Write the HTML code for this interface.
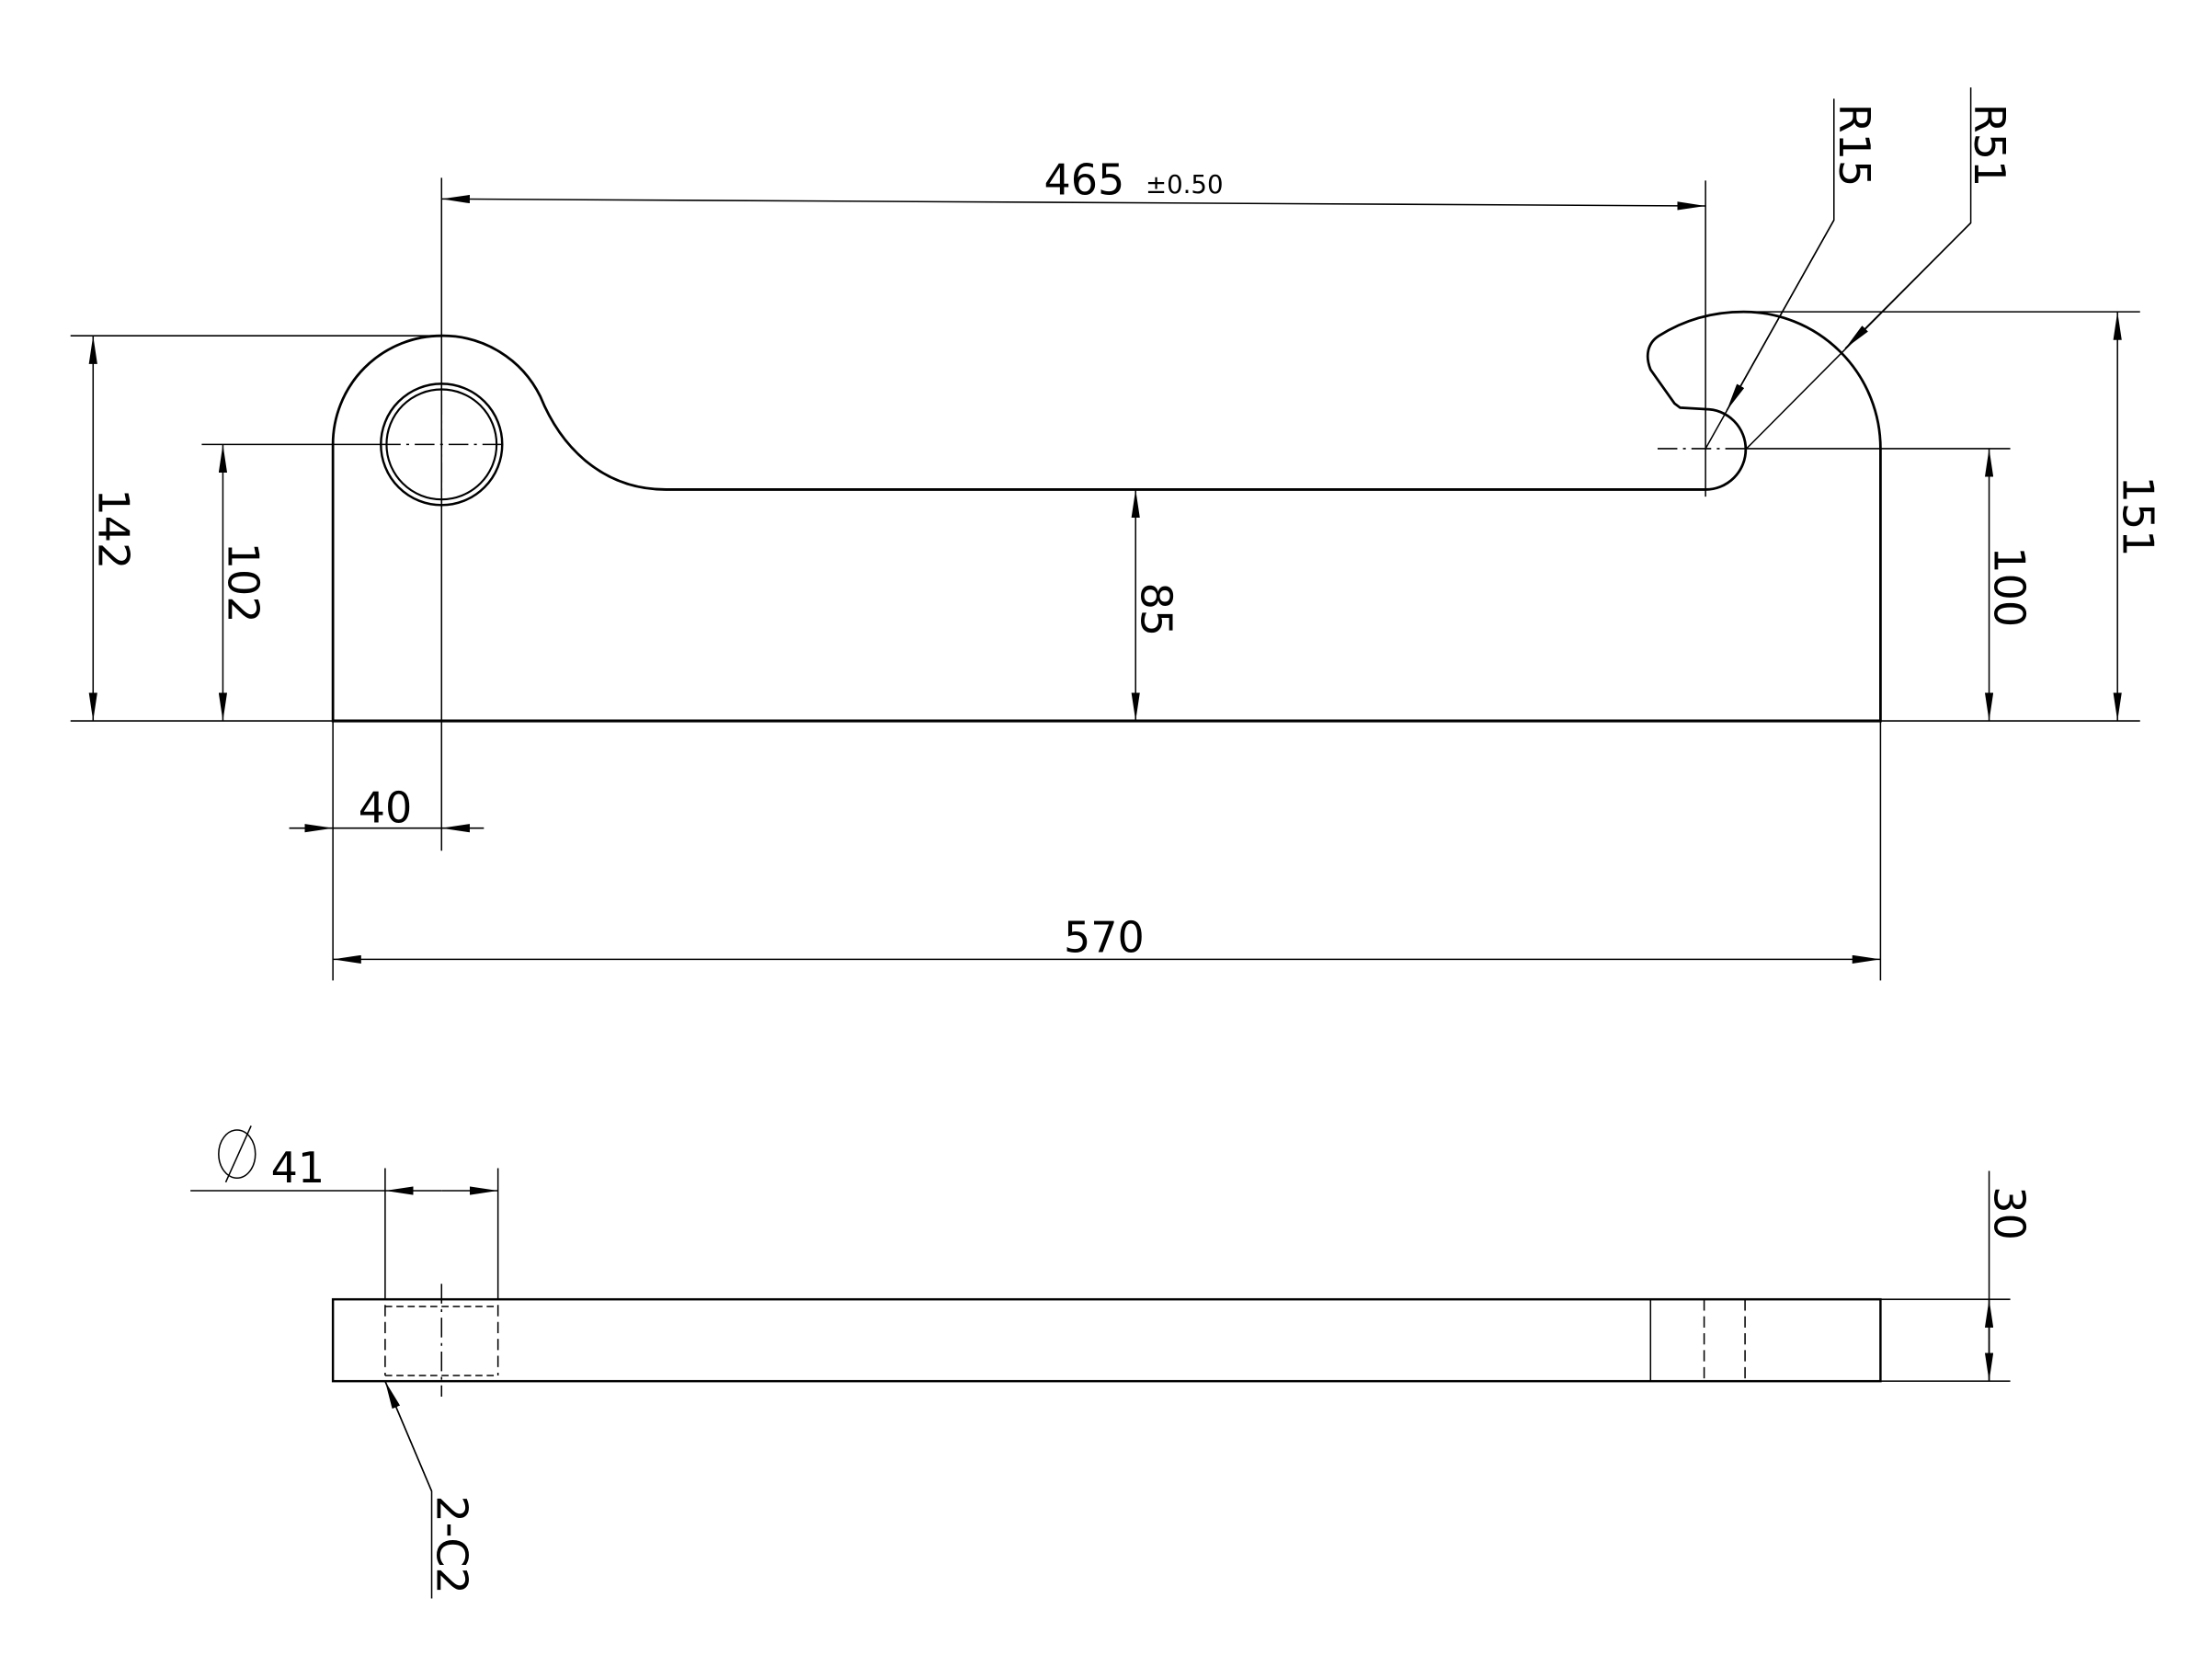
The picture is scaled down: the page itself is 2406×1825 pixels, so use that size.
<!DOCTYPE html>
<html><head><meta charset="utf-8"><style>html,body{margin:0;padding:0;background:#fff}svg{display:block}</style></head>
<body>
<svg width="2406" height="1825" viewBox="0 0 1568 1189.4" preserveAspectRatio="none" xmlns="http://www.w3.org/2000/svg" font-family="'DejaVu Sans','Liberation Sans',sans-serif" font-size="30">
<defs>
<marker id="a" viewBox="0 0 20 6" refX="20" refY="3" markerWidth="20" markerHeight="6" markerUnits="userSpaceOnUse" orient="auto-start-reverse"><path d="M0,0 L20,3 L0,6 Z" fill="#000"/></marker>
</defs>
<g fill="none" stroke="#000">
<!-- outline -->
<path stroke-width="1.8" d="M236,511 L236,315 A77,77 0 0 1 313,238 A77,77 0 0 1 383,281 C398,318 428,347 472,347 L1209,347 A28,28 0 0 0 1209,290 L1191,289 L1187,286 L1170,262 C1166,252 1168,243 1176,238 C1195,226 1215,221 1236,221 A97,97 0 0 1 1333,318 L1333,511 Z"/>
<line x1="236" y1="511" x2="1333" y2="511" stroke-width="2"/>
<circle cx="313" cy="315" r="43" stroke-width="1.6"/>
<circle cx="313" cy="315" r="39" stroke-width="1.4"/>
<g stroke-width="1">
<line x1="270" y1="315" x2="357" y2="315" stroke-dasharray="14,4,2,4"/>
<line x1="313" y1="280" x2="313" y2="360" stroke-dasharray="14,4,2,4"/>
<line x1="1175" y1="318" x2="1238" y2="318" stroke-dasharray="14,4,2,4"/>
<!-- extension lines -->
<line x1="313" y1="126" x2="313" y2="603"/>
<line x1="1209" y1="128" x2="1209" y2="352"/>
<line x1="50" y1="238" x2="313" y2="238"/>
<line x1="50" y1="511" x2="236" y2="511"/>
<line x1="1333" y1="511" x2="1517" y2="511"/>
<line x1="143" y1="315" x2="270" y2="315"/>
<line x1="1238" y1="318" x2="1425" y2="318"/>
<line x1="1236" y1="221" x2="1517" y2="221"/>
<line x1="236" y1="511" x2="236" y2="695"/>
<line x1="1333" y1="511" x2="1333" y2="695"/>
<!-- dimension lines -->
<line x1="313" y1="141" x2="1209" y2="146" marker-start="url(#a)" marker-end="url(#a)"/>
<line x1="66" y1="238" x2="66" y2="511" marker-start="url(#a)" marker-end="url(#a)"/>
<line x1="158" y1="315" x2="158" y2="511" marker-start="url(#a)" marker-end="url(#a)"/>
<line x1="805" y1="347" x2="805" y2="511" marker-start="url(#a)" marker-end="url(#a)"/>
<line x1="1410" y1="318" x2="1410" y2="511" marker-start="url(#a)" marker-end="url(#a)"/>
<line x1="1501" y1="221" x2="1501" y2="511" marker-start="url(#a)" marker-end="url(#a)"/>
<line x1="205" y1="587" x2="236" y2="587" marker-end="url(#a)"/>
<line x1="343" y1="587" x2="313" y2="587" marker-end="url(#a)"/>
<line x1="236" y1="587" x2="313" y2="587"/>
<line x1="236" y1="680" x2="1333" y2="680" marker-start="url(#a)" marker-end="url(#a)"/>
<!-- leaders -->
<polyline points="1300,70 1300,156 1209,318"/>
<line x1="1300" y1="156" x2="1224" y2="291" marker-end="url(#a)"/>
<polyline points="1397,62 1397,158 1238,318"/>
<line x1="1397" y1="158" x2="1308" y2="247" marker-end="url(#a)"/>
</g>
<!-- bottom view -->
<rect x="236" y="921" width="1097" height="58" stroke-width="1.6"/>
<g stroke-width="1">
<line x1="1170" y1="921" x2="1170" y2="979"/>
<line x1="1208" y1="921" x2="1208" y2="979" stroke-dasharray="8,4"/>
<line x1="1237" y1="921" x2="1237" y2="979" stroke-dasharray="8,4"/>
<line x1="273" y1="925" x2="273" y2="975" stroke-dasharray="8,4"/>
<line x1="353" y1="925" x2="353" y2="975" stroke-dasharray="8,4"/>
<line x1="273" y1="926" x2="353" y2="926" stroke-dasharray="5,3"/>
<line x1="273" y1="975" x2="353" y2="975" stroke-dasharray="5,3"/>
<line x1="313" y1="910" x2="313" y2="990" stroke-dasharray="14,4,2,4"/>
<line x1="273" y1="828" x2="273" y2="921"/>
<line x1="353" y1="828" x2="353" y2="921"/>
<line x1="135" y1="844" x2="273" y2="844"/>
<line x1="313" y1="844" x2="273" y2="844" marker-end="url(#a)"/>
<line x1="313" y1="844" x2="353" y2="844" marker-end="url(#a)"/>
<line x1="1333" y1="921" x2="1425" y2="921"/>
<line x1="1333" y1="979" x2="1425" y2="979"/>
<line x1="1410" y1="830" x2="1410" y2="979"/>
<line x1="1410" y1="950" x2="1410" y2="921" marker-end="url(#a)"/>
<line x1="1410" y1="950" x2="1410" y2="979" marker-end="url(#a)"/>
<polyline points="306,1133 306,1057 273,979"/>
<line x1="306" y1="1057" x2="273" y2="979" marker-end="url(#a)"/>
<ellipse cx="168" cy="818" rx="13" ry="17"/>
<line x1="160" y1="838" x2="178" y2="798"/>
</g>
</g>
<g fill="#000">
<text x="740" y="138">465</text>
<text x="812" y="137" font-size="18">±0.50</text>
<text x="754" y="675">570</text>
<text x="254" y="583">40</text>
<text x="192" y="838">41</text>
<text transform="translate(70,375) rotate(90)" text-anchor="middle">142</text>
<text transform="translate(162,413) rotate(90)" text-anchor="middle">102</text>
<text transform="translate(809,432) rotate(90)" text-anchor="middle">85</text>
<text transform="translate(1414,416) rotate(90)" text-anchor="middle">100</text>
<text transform="translate(1505,366) rotate(90)" text-anchor="middle">151</text>
<text transform="translate(1304,103) rotate(90)" text-anchor="middle">R15</text>
<text transform="translate(1400,103) rotate(90)" text-anchor="middle">R51</text>
<text transform="translate(1414,860) rotate(90)" text-anchor="middle">30</text>
<text transform="translate(310,1095) rotate(90)" text-anchor="middle">2-C2</text>
</g>
</svg>
</body></html>
